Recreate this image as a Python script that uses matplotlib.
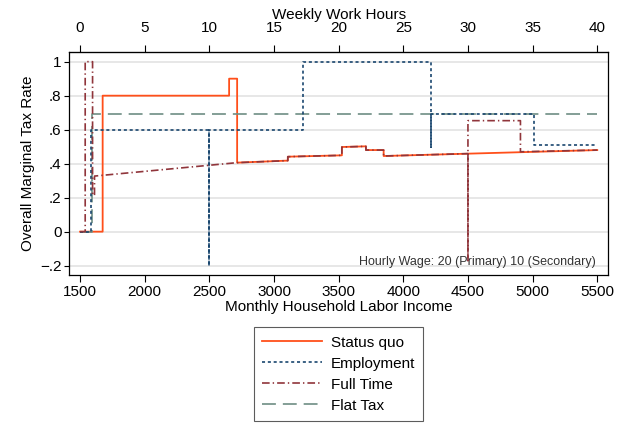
import matplotlib
matplotlib.use("Agg")
import matplotlib.pyplot as plt

plt.rcParams['font.family'] = ['Liberation Sans', 'DejaVu Sans']
plt.rcParams['lines.scale_dashes'] = False

# Daten (Einkommen / Grenzsteuersatz)
sq_x = [1500, 1675, 1675, 2653, 2653, 2715, 2715, 3107, 3107, 3525, 3525, 3711, 3711, 3848, 3848, 5500]
sq_y = [0, 0, .8, .8, .9, .9, .406, .418, .441, .449, .498, .502, .48, .48, .445, .48]

emp_x = [1500, 1585, 1585, 2500, 2500, 2500, 3228, 3228, 4217, 4217, 4217, 5013, 5013, 5500]
emp_y = [0, 0, .6, .6, -.2, .6, .6, 1, 1, .496, .695, .695, .512, .512]

ft_x = [1500, 1540, 1540, 1597, 1597, 1612, 1612, 2715, 3107, 3107, 3525, 3525, 3711, 3711,
        3848, 3848, 4500, 4500, 4500, 4906, 4906, 5500]
ft_y = [0, 0, 1, 1, .215, .215, .327, .406, .418, .441, .449, .498, .502, .48,
        .48, .445, .459, -.17, .653, .653, .47, .48]

flat_x = [1500, 1590, 1590, 5500]
flat_y = [0, 0, .69, .69]

y_ticks = [-.2, 0, .2, .4, .6, .8, 1]
y_labels = ['\u2212.2', '0', '.2', '.4', '.6', '.8', '1']
x_ticks = [1500, 2000, 2500, 3000, 3500, 4000, 4500, 5000, 5500]
hour_ticks = [0, 5, 10, 15, 20, 25, 30, 35, 40]

fig = plt.figure(figsize=(6.17, 4.24), dpi=100)
ax = fig.add_axes([0.1123, 0.3514, 0.8731, 0.526])

ax.plot(sq_x, sq_y, color='#ff4f1a', lw=1.3, label='Status quo', zorder=3)
ax.plot(emp_x, emp_y, color='#1a476f', lw=1.2, linestyle=(0, (2.2, 2.0)), label='Employment', zorder=4)
ax.plot(ft_x, ft_y, color='#90353b', lw=1.2, linestyle=(0, (5.5, 2.2, 1.0, 2.2)), label='Full Time', zorder=5)
ax.plot(flat_x, flat_y, color='#6e8e84', lw=1.2, linestyle=(0, (10, 5)), label='Flat Tax', zorder=3)

ax.set_xlim(1417, 5583)
ax.set_ylim(-0.255, 1.057)
ax.set_xticks(x_ticks)
ax.set_yticks(y_ticks)
ax.set_yticklabels(y_labels)
ax.tick_params(axis='x', length=5, width=0.8, labelsize=11, pad=2)
ax.tick_params(axis='y', length=3.5, width=0.8, labelsize=11, pad=2)
ax.grid(axis='y', color='#e0e0e0', lw=1.1, zorder=0)
ax.set_axisbelow(True)
for s in ax.spines.values():
    s.set_linewidth(0.9)

ax.set_xlabel('Monthly Household Labor Income', fontsize=11, labelpad=1)
ax.set_ylabel('Overall Marginal Tax Rate', fontsize=11, labelpad=4)

# obere Achse: Wochenstunden
top = ax.secondary_xaxis('top', functions=(lambda x: (x - 1500) / 100, lambda h: h * 100 + 1500))
top.set_xticks(hour_ticks)
top.tick_params(length=5, width=0.8, labelsize=11, pad=7)
top.set_xlabel('Weekly Work Hours', fontsize=11, labelpad=1.8)

ax.text(0.977, 0.03, 'Hourly Wage: 20 (Primary) 10 (Secondary)', transform=ax.transAxes,
        ha='right', va='bottom', fontsize=9, color='#333333')

leg = fig.legend(loc='upper center', bbox_to_anchor=(0.5486, 0.2285), ncol=1, fontsize=11,
                 handlelength=3.9, labelspacing=0.46, frameon=True, fancybox=False,
                 borderpad=0.55, handletextpad=0.6, borderaxespad=0)
leg.get_frame().set_edgecolor('#333333')
leg.get_frame().set_linewidth(0.8)

fig.savefig('out.png', dpi=100)
